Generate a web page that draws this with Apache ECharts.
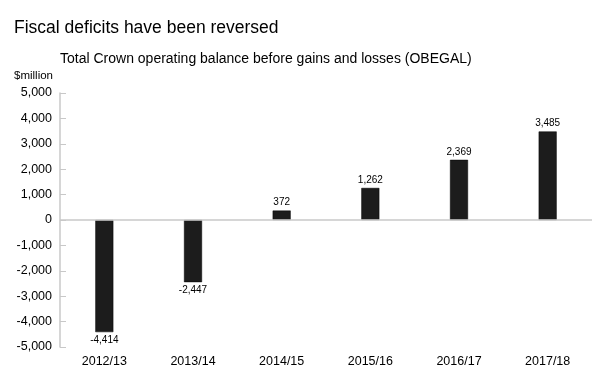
<!DOCTYPE html>
<html>
<head>
<meta charset="utf-8">
<script src="https://cdn.jsdelivr.net/npm/echarts@6/dist/echarts.min.js"></script>
<style>
html,body{margin:0;padding:0;background:#fff;}
#c{width:600px;height:385px;}
</style>
</head>
<body>
<div id="c"></div>
<script>
var categories = ['2012/13', '2013/14', '2014/15', '2015/16', '2016/17', '2017/18'];
var obegal = [-4414, -2447, 372, 1262, 2369, 3485];
var yTicks = [-5000, -4000, -3000, -2000, -1000, 0, 1000, 2000, 3000, 4000, 5000];

function fmt(v) {
  var s = Math.abs(v).toString().replace(/\B(?=(\d{3})+(?!\d))/g, ',');
  return (v < 0 ? '-' : '') + s;
}

var FONT = '"Liberation Sans", Arial, sans-serif';
var chart = echarts.init(document.getElementById('c'), null, {renderer: 'canvas'});
chart.setOption({
  animation: false,
  backgroundColor: '#fff',
  textStyle: {fontFamily: FONT},
  title: [
    {text: 'Fiscal deficits have been reversed', left: 14, top: 19, padding: 0,
     textStyle: {fontFamily: FONT, fontSize: 17.5, fontWeight: 'normal', color: '#000'}},
    {text: 'Total Crown operating balance before gains and losses (OBEGAL)', left: 60, top: 52, padding: 0,
     textStyle: {fontFamily: FONT, fontSize: 14, fontWeight: 'normal', color: '#000'}},
    {text: '$million', left: 14, top: 70, padding: 0,
     textStyle: {fontFamily: FONT, fontSize: 11.5, fontWeight: 'normal', color: '#000'}}
  ],
  grid: {left: 60, right: 8, top: 93, bottom: 38},
  xAxis: {
    type: 'category',
    data: categories,
    position: 'bottom',
    axisLine: {show: false, onZero: false},
    axisTick: {show: false},
    axisLabel: {color: '#000', fontSize: 12.5, margin: 8, fontFamily: FONT}
  },
  yAxis: {
    type: 'value',
    min: yTicks[0],
    max: yTicks[yTicks.length - 1],
    interval: 1000,
    axisLine: {show: true, lineStyle: {color: '#c8c8c8', width: 1.5}},
    axisTick: {show: true, inside: true, length: 6, lineStyle: {color: '#c8c8c8'}},
    splitLine: {show: false},
    axisLabel: {color: '#000', fontSize: 12.5, margin: 8, fontFamily: FONT, formatter: fmt}
  },
  series: [{
    type: 'bar',
    barWidth: 18,
    data: obegal.map(function (v) {
      return {value: v, label: {position: v < 0 ? 'bottom' : 'top'}};
    }),
    itemStyle: {color: '#1c1c1c', borderColor: '#000', borderWidth: 0.5},
    label: {
      show: true,
      fontSize: 10,
      color: '#000',
      fontFamily: FONT,
      distance: 3,
      formatter: function (p) { return fmt(p.value); }
    },
    markLine: {
      silent: true,
      symbol: 'none',
      label: {show: false},
      lineStyle: {color: '#c8c8c8', type: 'solid', width: 1.5},
      data: [{yAxis: 0}]
    }
  }]
});
</script>
</body>
</html>
